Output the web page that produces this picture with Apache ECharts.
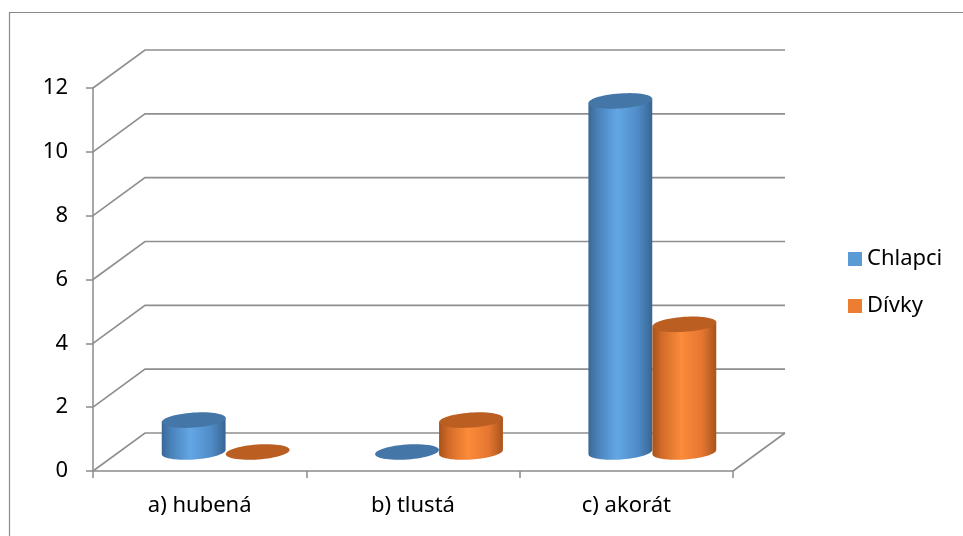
<!DOCTYPE html>
<html>
<head>
<meta charset="utf-8">
<script src="https://cdn.jsdelivr.net/npm/echarts@6/dist/echarts.min.js"></script>
<style>
  html, body { margin: 0; padding: 0; background: #fff; }
  #chart { width: 963px; height: 536px; }
</style>
</head>
<body>
<div id="chart"></div>
<script>
// data
const categories = ['a) hubená', 'b) tlustá', 'c) akorát'];
const chlapci = [1, 0, 11];
const divky = [0, 1, 4];
const yTicks = [0, 2, 4, 6, 8, 10, 12];

// pseudo-3d depth of the floor (px)
const DEPTH = [52, -38];
const R = 32;      // cylinder radius
const RY = 7.5;    // ellipse half-height
const TILT = 0.07; // ellipse tilt (rad)
const FONT = 'Noto Sans';

const chart = echarts.init(document.getElementById('chart'));

// point on a tilted ellipse
function ellPt(cx, cy, f) {
  return [
    cx + R * Math.cos(f) * Math.cos(TILT) + RY * Math.sin(f) * Math.sin(TILT),
    cy - R * Math.cos(f) * Math.sin(TILT) + RY * Math.sin(f) * Math.cos(TILT)
  ];
}
function ell(cx, cy, f0, f1, n) {
  const pts = [];
  for (let k = 0; k <= n; k++) {
    pts.push(ellPt(cx, cy, f0 + (f1 - f0) * k / n));
  }
  return pts;
}

function cylinder(side, body, topColor) {
  return function (params, api) {
    const i = api.value(0);
    const v = api.value(1);
    const base = api.coord([i, 0]);
    const top = api.coord([i, v]);
    const cx = base[0] + DEPTH[0] / 2 + side * R;
    const yb = base[1] + DEPTH[1] / 2;
    const yt = top[1] + DEPTH[1] / 2;
    const children = [];
    if (v > 0) {
      const pts = [ellPt(cx, yt, Math.PI)]
        .concat(ell(cx, yb, Math.PI, 0, 40))
        .concat([ellPt(cx, yt, 0)]);
      children.push({
        type: 'polygon',
        shape: { points: pts },
        style: { fill: new echarts.graphic.LinearGradient(0, 0, 1, 0, body) }
      });
    }
    children.push({
      type: 'polygon',
      shape: { points: ell(cx, yt, 0, Math.PI * 2, 60) },
      style: { fill: topColor }
    });
    return { type: 'group', children: children };
  };
}

const blueBody = [
  { offset: 0, color: '#3a6896' },
  { offset: 0.15, color: '#4a82bb' },
  { offset: 0.45, color: '#63a7e5' },
  { offset: 0.78, color: '#4f8bc6' },
  { offset: 1, color: '#386593' }
];
const orangeBody = [
  { offset: 0, color: '#a8521b' },
  { offset: 0.15, color: '#d26b28' },
  { offset: 0.45, color: '#fc8b3a' },
  { offset: 0.78, color: '#e47631' },
  { offset: 1, color: '#a9531c' }
];

const option = {
  animation: false,
  backgroundColor: '#fff',
  textStyle: { fontFamily: FONT },
  graphic: [{
    type: 'rect',
    shape: { x: 9.5, y: 12.5, width: 1000, height: 600 },
    style: { fill: 'none', stroke: '#8a8a8a', lineWidth: 1.2 },
    silent: true
  }],
  grid: { left: 93, right: 230, top: 88, bottom: 65 },
  legend: {
    data: ['Chlapci', 'Dívky'],
    orient: 'vertical',
    left: 843,
    top: 242,
    icon: 'rect',
    itemWidth: 14,
    itemHeight: 14,
    itemGap: 23,
    textStyle: { fontFamily: FONT, fontSize: 22, color: '#000', lineHeight: 24 }
  },
  xAxis: {
    type: 'category',
    data: categories,
    axisLine: { lineStyle: { color: '#8a8a8a', width: 1.5 } },
    axisTick: { show: true, length: 7, lineStyle: { color: '#8a8a8a', width: 1.5 } },
    axisLabel: { fontFamily: FONT, fontSize: 22, color: '#000', margin: 24 }
  },
  yAxis: {
    type: 'value',
    min: 0,
    max: 12,
    interval: 2,
    axisLine: { show: true, lineStyle: { color: '#8a8a8a', width: 1.5 } },
    axisTick: { show: true, length: 7, lineStyle: { color: '#8a8a8a', width: 1.5 } },
    splitLine: { show: false },
    axisLabel: { fontFamily: FONT, fontSize: 22, color: '#000', margin: 25 }
  },
  series: [
    {
      name: 'mřížka',
      type: 'custom',
      silent: true,
      z: 1,
      data: yTicks.map(v => [0, v]),
      renderItem: function (params, api) {
        const cs = params.coordSys;
        const y = api.coord([0, api.value(1)])[1];
        const left = cs.x, right = cs.x + cs.width;
        const line = { stroke: '#8e8e8e', lineWidth: 1.6, fill: 'none' };
        const children = [{
          type: 'polyline',
          shape: { points: [[left, y], [left + DEPTH[0], y + DEPTH[1]], [right + DEPTH[0], y + DEPTH[1]]] },
          style: line
        }];
        if (api.value(1) === 0) {
          children.push({
            type: 'polyline',
            shape: { points: [[right, y], [right + DEPTH[0], y + DEPTH[1]]] },
            style: line
          });
        }
        return { type: 'group', children: children };
      }
    },
    {
      name: 'Chlapci',
      type: 'custom',
      z: 3,
      itemStyle: { color: '#5b9bd5' },
      data: categories.map((c, i) => [i, chlapci[i]]),
      renderItem: cylinder(-1, blueBody, '#4476a8')
    },
    {
      name: 'Dívky',
      type: 'custom',
      z: 3,
      itemStyle: { color: '#ed7d31' },
      data: categories.map((c, i) => [i, divky[i]]),
      renderItem: cylinder(1, orangeBody, '#bb5e22')
    }
  ]
};

chart.setOption(option);
</script>
</body>
</html>
